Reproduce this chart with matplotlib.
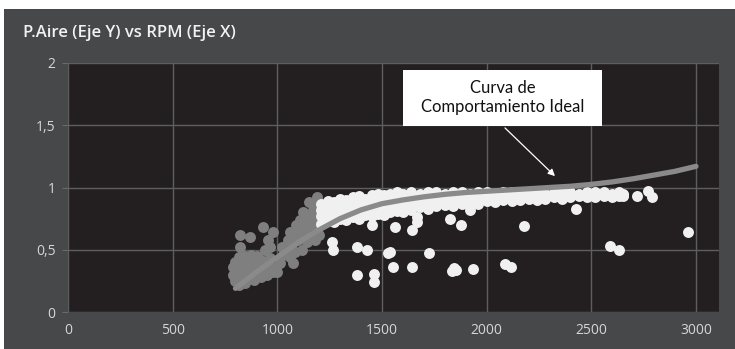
import matplotlib
matplotlib.use("Agg")
import matplotlib.pyplot as plt
from matplotlib.patches import Rectangle

# ---------------- data ----------------
title = "P.Aire (Eje Y) vs RPM (Eje X)"
x_ticks = [0, 500, 1000, 1500, 2000, 2500, 3000]
x_tick_labels = ["0", "500", "1000", "1500", "2000", "2500", "3000"]
y_ticks = [0, 0.5, 1, 1.5, 2]
y_tick_labels = ["0", "0,5", "1", "1,5", "2"]

# low-rpm (grey) cloud
gray_x = [790, 790, 800, 800, 800, 815, 815, 815, 815, 830, 830, 830, 845, 845, 845, 845,
          860, 860, 860, 875, 875, 875, 890, 890, 890, 905, 905, 905, 920, 920, 920, 935,
          935, 950, 950, 965, 965, 980, 995,
          822, 870, 822, 932, 980, 965, 1027, 1076, 998, 955, 940, 1013,
          1040, 1050, 1060, 1070, 1080, 1090, 1100, 1100, 1110, 1120, 1125, 1130, 1140,
          1145, 1150, 1160, 1165, 1170, 1175, 1180, 1185, 1190, 1195, 1150, 1190, 1210,
          1200, 1215, 1085, 1120, 1060, 1020]
gray_y = [0.30, 0.36, 0.25, 0.33, 0.40, 0.22, 0.29, 0.37, 0.44, 0.26, 0.33, 0.40, 0.23, 0.30, 0.38, 0.45,
          0.27, 0.35, 0.42, 0.30, 0.38, 0.46, 0.26, 0.33, 0.41, 0.30, 0.37, 0.45, 0.28, 0.35, 0.42, 0.32,
          0.40, 0.30, 0.38, 0.35, 0.43, 0.32, 0.36,
          0.62, 0.60, 0.52, 0.68, 0.64, 0.52, 0.46, 0.39, 0.32, 0.58, 0.50, 0.39,
          0.50, 0.58, 0.64, 0.55, 0.62, 0.70, 0.58, 0.66, 0.74, 0.62, 0.80, 0.70, 0.56,
          0.66, 0.76, 0.62, 0.72, 0.82, 0.68, 0.58, 0.78, 0.66, 0.86, 0.88, 0.92, 0.74,
          0.62, 0.84, 0.48, 0.50, 0.44, 0.52]

# dense white band (per column: top, upper-mid, lower-mid, bottom)
band_x = [1210, 1240, 1270, 1300, 1330, 1360, 1390, 1420, 1450, 1480, 1510, 1540, 1570, 1600,
          1640, 1680, 1720, 1760, 1800, 1840, 1880, 1920, 1960, 2000, 2040, 2080, 2120, 2160,
          2200, 2240, 2280, 2320, 2360, 2400, 2440, 2480, 2520, 2560, 2600, 2630, 2650]
band_top = [0.87, 0.89, 0.88, 0.91, 0.90, 0.92, 0.93, 0.91, 0.94, 0.95, 0.94, 0.95, 0.96, 0.95,
            0.96, 0.95, 0.96, 0.96, 0.95, 0.96, 0.96, 0.95, 0.96, 0.96, 0.95, 0.96, 0.96, 0.95,
            0.96, 0.96, 0.95, 0.96, 0.96, 0.96, 0.95, 0.96, 0.96, 0.96, 0.95, 0.96, 0.95]
band_mid_a = [0.82, 0.84, 0.83, 0.86, 0.85, 0.87, 0.88, 0.87, 0.89, 0.90, 0.89, 0.90, 0.91, 0.90,
              0.91, 0.92, 0.92, 0.93, 0.92, 0.93, 0.93, 0.93, 0.93, 0.93, 0.94, 0.94, 0.94, 0.94,
              0.94, 0.94, 0.94, 0.94, 0.94, 0.94, 0.94, 0.94, 0.94, 0.94, 0.94, 0.94, 0.94]
band_mid_b = [0.77, 0.78, 0.77, 0.80, 0.79, 0.81, 0.81, 0.82, 0.83, 0.84, 0.84, 0.85, 0.86, 0.86,
              0.87, 0.88, 0.88, 0.89, 0.89, 0.89, 0.90, 0.91, 0.90, 0.91, 0.91, 0.92, 0.92, 0.92,
              0.93, 0.92, 0.93, 0.93, 0.93, 0.93, 0.94, 0.93, 0.93, 0.94, 0.93, 0.94, 0.94]
band_bot = [0.71, 0.73, 0.72, 0.75, 0.74, 0.76, 0.75, 0.78, 0.77, 0.79, 0.78, 0.80, 0.81, 0.80,
            0.82, 0.84, 0.83, 0.85, 0.86, 0.85, 0.87, 0.88, 0.87, 0.89, 0.88, 0.90, 0.89, 0.90,
            0.91, 0.90, 0.91, 0.92, 0.91, 0.92, 0.93, 0.92, 0.92, 0.93, 0.92, 0.93, 0.93]

# scattered white outliers
out_x = [1261, 1265, 1380, 1428, 1380, 1462, 1462, 1452, 1530, 1562, 1643, 1667, 1667, 1538,
         1552, 1643, 1725, 1825, 1878, 1835, 1854, 1845, 1935, 2088, 2117, 2179, 2427, 2719,
         2771, 2790, 2590, 2633, 2962, 1921]
out_y = [0.56, 0.50, 0.52, 0.50, 0.30, 0.305, 0.24, 0.70, 0.47, 0.68, 0.66, 0.76, 0.72, 0.48,
         0.36, 0.36, 0.47, 0.75, 0.70, 0.33, 0.34, 0.35, 0.345, 0.385, 0.36, 0.69, 0.83, 0.93,
         0.97, 0.92, 0.53, 0.50, 0.64, 0.82]

# ideal behaviour curve
curve_x = [800, 900, 1000, 1100, 1200, 1300, 1400, 1500, 1600, 1700, 1800, 1900, 2000,
           2100, 2200, 2300, 2400, 2500, 2600, 2700, 2800, 2900, 3000]
curve_y = [0.19, 0.32, 0.44, 0.56, 0.66, 0.75, 0.82, 0.87, 0.90, 0.925, 0.945, 0.96, 0.97,
           0.98, 0.99, 1.00, 1.01, 1.025, 1.045, 1.07, 1.10, 1.13, 1.17]

annotation_text = "Curva de\nComportamiento Ideal"

# ---------------- drawing ----------------
W, H = 735, 349
fig = plt.figure(figsize=(W / 100, H / 100), dpi=100, facecolor="#47484a")

# white outer margins (top and left)
fig.patches.append(Rectangle((0, 1 - 9 / H), 1, 9 / H, transform=fig.transFigure,
                             facecolor="white", edgecolor="none", zorder=-5))
fig.patches.append(Rectangle((0, 0), 4 / W, 1, transform=fig.transFigure,
                             facecolor="white", edgecolor="none", zorder=-5))

ax = fig.add_axes([68 / W, 1 - 312 / H, 651 / W, 249 / H])
ax.set_facecolor("#231f20")
ax.set_xlim(0, 3110)
ax.set_ylim(0, 2)
for s in ax.spines.values():
    s.set_visible(False)

ax.set_xticks(x_ticks)
ax.set_xticklabels(x_tick_labels)
ax.set_yticks(y_ticks)
ax.set_yticklabels(y_tick_labels)
ax.grid(True, color="#5e5e5e", lw=1.0)
ax.set_axisbelow(True)
ax.tick_params(axis="y", length=4, color="#6a6a6a", pad=5, labelcolor="#d6d6d6")
ax.tick_params(axis="x", length=0, pad=8, labelcolor="#d6d6d6")
for lab in ax.get_xticklabels() + ax.get_yticklabels():
    lab.set_fontfamily("Open Sans")
    lab.set_fontsize(10)

ms = 62
ax.scatter(gray_x, gray_y, s=ms, color="#7f7f7f", linewidths=0, zorder=3)
for ys in (band_top, band_mid_a, band_mid_b, band_bot):
    ax.scatter(band_x, ys, s=ms, color="#f0f0f0", linewidths=0, zorder=4)
ax.scatter(out_x, out_y, s=ms, color="#f0f0f0", linewidths=0, zorder=4)

ax.plot(curve_x, curve_y, color="#8a8a8a", lw=3.8, solid_capstyle="round", zorder=5)

# annotation box
ax.add_patch(Rectangle((1600, 1.494), 951, 0.45, facecolor="white", edgecolor="none", zorder=6))
ax.text(2076, 1.72, annotation_text, ha="center", va="center", fontsize=12,
        family="Lato", color="#111111", linespacing=1.25, zorder=7)
ax.annotate("", xy=(2336, 1.076), xytext=(2078, 1.494),
            arrowprops=dict(arrowstyle="-|>", color="white", lw=0.9, mutation_scale=10),
            zorder=7)

fig.text(23 / W, 1 - 37 / H, title, fontsize=12, family="Open Sans", weight="semibold",
         color="#f2f2f2", ha="left", va="baseline")

fig.savefig("out.png", dpi=100, facecolor=fig.get_facecolor())
